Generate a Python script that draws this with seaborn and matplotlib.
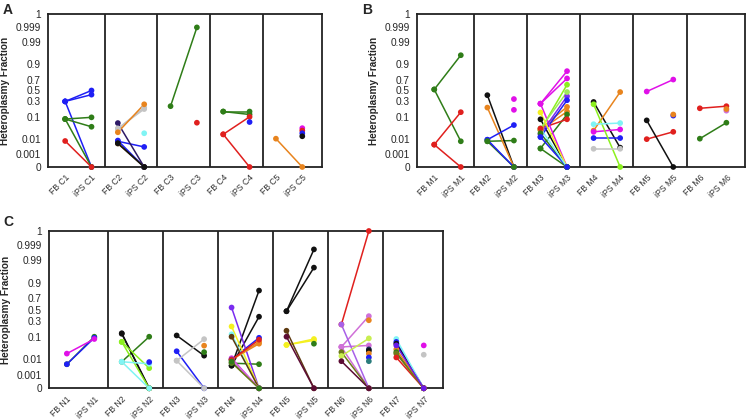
import numpy as np
import pandas as pd
import seaborn as sns
import matplotlib
matplotlib.use("Agg")
import matplotlib.pyplot as plt
from matplotlib.ticker import FixedLocator, FixedFormatter

# --- data: one entry per clone line (group index, colour key, FB value, iPS value) ---
# None means no point at that stage
a_groups = ["C1", "C2", "C3", "C4", "C5"]
a_group = [0, 0, 0, 0, 0, 0, 0,
           1, 1, 1, 1, 1, 1, 1, 1, 1,
           2, 2,
           3, 3, 3, 3, 3,
           4, 4, 4, 4, 4]
a_color = ["blue", "blue", "blue", "green", "green", "green", "red",
           "indigo", "grey", "grey", "orange", "blue", "blue", "brown", "black", "cyan",
           "green", "red",
           "green", "green", "red", "red", "blue",
           "orange", "magenta", "red", "blue", "black"]
a_fb = [0.3, 0.3, 0.3, 0.08, 0.08, 0.08, 0.007,
        0.053, 0.029, 0.03, 0.02, 0.0067, 0.0075, 0.0047, 0.005, None,
        0.22, None,
        0.15, 0.15, 0.016, 0.016, None,
        0.01, None, None, None, None]
a_ips = [0.5, 0.42, 0, 0.095, 0.036, 0, 0,
         0, 0.2, 0.18, 0.25, 0.0028, 0, 0, 0, 0.018,
         0.999, 0.055,
         0.15, 0.12, 0.1, 0, 0.059,
         0, 0.031, 0.024, 0.018, 0.013]

b_groups = ["M1", "M2", "M3", "M4", "M5", "M6"]
b_group = [0, 0, 0, 0,
           1, 1, 1, 1, 1, 1, 1, 1,
           2, 2, 2, 2, 2, 2, 2, 2, 2, 2, 2, 2, 2, 2, 2, 2, 2,
           3, 3, 3, 3, 3, 3, 3,
           4, 4, 4, 4, 4,
           5, 5, 5, 5]
b_color = ["green", "green", "red", "red",
           "black", "orange", "blue", "blue", "green", "green", "magenta", "magenta",
           "magenta", "magenta", "magenta", "violet", "blue", "lime", "lightgreen", "yellow",
           "black", "cyan", "orange", "orange", "green", "green", "red", "green", "blue",
           "black", "lime", "orange", "cyan", "magenta", "blue", "grey",
           "magenta", "black", "red", "blue", "orange",
           "red", "orchid", "orange", "green"]
b_fb = [0.52, 0.52, 0.004, 0.004,
        0.41, 0.2, 0.0085, 0.0085, 0.0067, 0.0067, None, None,
        0.26, 0.26, 0.26, 0.016, 0.012, 0.025, 0.03, 0.14,
        0.078, 0.03, 0.029, 0.025, 0.0022, 0.0022, 0.03, 0.018, 0.012,
        0.29, 0.25, 0.024, 0.047, 0.021, 0.0107, 0.0021,
        0.48, 0.07, 0.0093, None, None,
        0.19, None, None, 0.01]
b_ips = [0.96, 0.0067, 0.143, 0,
         0, 0, 0.043, 0, 0.0075, 0, 0.34, 0.17,
         0.83, 0.72, 0, 0.39, 0.32, 0.61, 0.47, 0,
         0, 0, 0.21, 0.15, 0.12, 0, 0.078, 0, 0,
         0.0025, 0, 0.47, 0.053, 0.027, 0.0107, 0.0021,
         0.7, 0, 0.021, 0.11, 0.12,
         0.22, 0.16, 0.18, 0.055]

c_groups = ["N1", "N2", "N3", "N4", "N5", "N6", "N7"]
c_group = [0, 0, 0,
           1, 1, 1, 1, 1, 1, 1, 1,
           2, 2, 2, 2, 2, 2,
           3, 3, 3, 3, 3, 3, 3, 3, 3, 3, 3, 3, 3, 3, 3,
           4, 4, 4, 4, 4, 4, 4,
           5, 5, 5, 5, 5, 5, 5, 5, 5, 5, 5, 5, 5, 5,
           6, 6, 6, 6, 6, 6, 6, 6, 6, 6]
c_color = ["green", "blue", "magenta",
           "black", "black", "lime", "lime", "green", "cyan", "cyan", "blue",
           "black", "blue", "grey", "grey", "orange", "green",
           "violet", "yellow", "cyan", "brown", "magenta", "orchid", "orange", "orange",
           "blue", "red", "black", "black", "green", "olive", "green",
           "black", "black", "brown", "maroon", "yellow", "yellow", "green",
           "red", "mediumpurple", "orchid", "orchid", "orchid", "olive", "yellowgreen",
           "maroon", "orange", "navy", "black", "orange", "blue", "teal",
           "cyan", "blue", "black", "orange", "green", "olive", "red", "purple",
           "magenta", "grey"]
c_fb = [0.0047, 0.0047, 0.018,
        0.13, 0.125, 0.06, 0.06, 0.0068, 0.0068, 0.0068, None,
        0.11, 0.023, 0.008, 0.008, None, None,
        0.54, 0.21, 0.12, 0.1, 0.011, 0.01, 0.0095, 0.009,
        0.0095, 0.009, 0.0038, 0.0038, 0.0055, 0.006, 0.007,
        0.47, 0.47, 0.156, 0.1, 0.044, 0.044, None,
        0.24, 0.24, 0.036, 0.036, 0.036, 0.021, 0.014,
        0.0074, None, None, None, None, None, None,
        0.08, 0.06, 0.05, 0.028, 0.021, 0.018, 0.012, 0.042,
        None, None]
c_ips = [0.1, 0.09, 0.08,
         0, 0, 0.0026, 0, 0.1, 0.005, 0, 0.0065,
         0.0145, 0, 0.079, 0, 0.041, 0.021,
         0, 0, 0, 0, 0, 0, 0.05, 0.06,
         0.09, 0.075, 0.82, 0.37, 0.0047, 0, 0,
         0.998, 0.978, 0, 0, 0.08, 0.07, 0.05,
         1.0, 0, 0.38, 0.042, 0, 0, 0.085,
         0, 0.31, 0.028, 0.024, 0.018, 0.012, 0.0074,
         0, 0, 0, 0, 0, 0, 0, 0,
         0.042, 0.016]

palette = {
    "red": "#E0201E", "green": "#2F7D18", "blue": "#1F1FF5", "magenta": "#E010E8",
    "orange": "#E8841E", "black": "#111111", "grey": "#C4C4C4", "cyan": "#80F4F4",
    "lime": "#8CF01E", "lightgreen": "#9EE85A", "yellow": "#F4F020", "brown": "#5E3A10",
    "maroon": "#5C0C34", "indigo": "#2E1A66", "violet": "#7A2CF0", "orchid": "#D070D8",
    "mediumpurple": "#A860E8", "olive": "#6E7A1A", "yellowgreen": "#C8EE50",
    "navy": "#1A2A5A", "teal": "#2A7C7C", "purple": "#6A1AE8",
}

y_tick_vals = [0, 0.001, 0.01, 0.1, 0.3, 0.5, 0.7, 0.9, 0.99, 0.999, 1]
y_tick_labels = ["0", "0.001", "0.01", "0.1", "0.3", "0.5", "0.7", "0.9", "0.99", "0.999", "1"]

# segmented axis like the original (roughly logit, with 0 and 1 at the ends)
knot_pos = np.array([0, 13.5, 28.5, 50.5, 66, 77, 88, 103.5, 125.5, 140.5, 154])
EPS = 1e-4


def _logit(v):
    v = np.clip(np.asarray(v, dtype=float), EPS, 1 - EPS)
    return np.log(v / (1 - v))


knot_logit = _logit(y_tick_vals)


def fwd(v):
    return np.interp(_logit(v), knot_logit, knot_pos)


def inv(p):
    lv = np.interp(np.asarray(p, dtype=float), knot_pos, knot_logit)
    return 1 / (1 + np.exp(-lv))


def make_frames(group, color, fb, ips):
    rows = []
    for i, (g, c, f, s) in enumerate(zip(group, color, fb, ips)):
        if f is not None:
            rows.append((i, c, 2 * g, f, s is not None))
        if s is not None:
            rows.append((i, c, 2 * g + 1, s, f is not None))
    df = pd.DataFrame(rows, columns=["clone", "color", "x", "value", "paired"])
    return df[df["paired"]], df


def draw_panel(ax, groups, group, color, fb, ips, xmax):
    lines, pts = make_frames(group, color, fb, ips)
    sns.lineplot(data=lines, x="x", y="value", hue="color", units="clone",
                 estimator=None, palette=palette, legend=False, linewidth=1.1, ax=ax)
    sns.scatterplot(data=pts, x="x", y="value", hue="color", palette=palette,
                    s=17, linewidth=0, legend=False, clip_on=False, zorder=3, ax=ax)
    for i in range(len(groups) - 1):
        ax.axvline(2 * i + 1.5, color="#222222", linewidth=1.3)
    ax.set_yscale("function", functions=(fwd, inv))
    ax.set_ylim(0, 1)
    ax.yaxis.set_major_locator(FixedLocator(y_tick_vals))
    ax.yaxis.set_major_formatter(FixedFormatter(y_tick_labels))
    ax.yaxis.set_minor_locator(FixedLocator([]))
    ax.set_xlim(-0.65, xmax)
    xt = list(range(2 * len(groups)))
    xl = []
    for g in groups:
        xl += ["FB " + g, "iPS " + g]
    ax.set_xticks(xt)
    ax.set_xticklabels(xl, rotation=45, ha="right", rotation_mode="anchor",
                       fontsize=6.2, color="#333333")
    ax.tick_params(axis="y", labelsize=7.3, length=3, width=1, pad=2)
    ax.tick_params(axis="x", length=3, width=1, pad=1.5)
    ax.set_xlabel("")
    ax.set_ylabel("Heteroplasmy Fraction", fontsize=7.2, fontweight="bold", labelpad=4)
    for sp in ax.spines.values():
        sp.set_visible(True)
        sp.set_color("#222222")
        sp.set_linewidth(1.3)


sns.set_style("white")
plt.rcParams["font.family"] = ["Liberation Sans", "DejaVu Sans"]

fig = plt.figure(figsize=(7.47, 4.2), dpi=100)
ax_a = fig.add_axes([0.0643, 0.6024, 0.3668, 0.3643])
ax_b = fig.add_axes([0.5582, 0.6024, 0.4391, 0.3643])
ax_c = fig.add_axes([0.0656, 0.0755, 0.5274, 0.3745])

draw_panel(ax_a, a_groups, a_group, a_color, a_fb, a_ips, 9.75)
draw_panel(ax_b, b_groups, b_group, b_color, b_fb, b_ips, 11.7)
draw_panel(ax_c, c_groups, c_group, c_color, c_fb, c_ips, 13.7)

fig.text(0.004, 0.993, "A", fontsize=10, fontweight="bold", va="top")
fig.text(0.485, 0.993, "B", fontsize=10, fontweight="bold", va="top")
fig.text(0.004, 0.488, "C", fontsize=10, fontweight="bold", va="top")

fig.savefig("out.png", dpi=100)
